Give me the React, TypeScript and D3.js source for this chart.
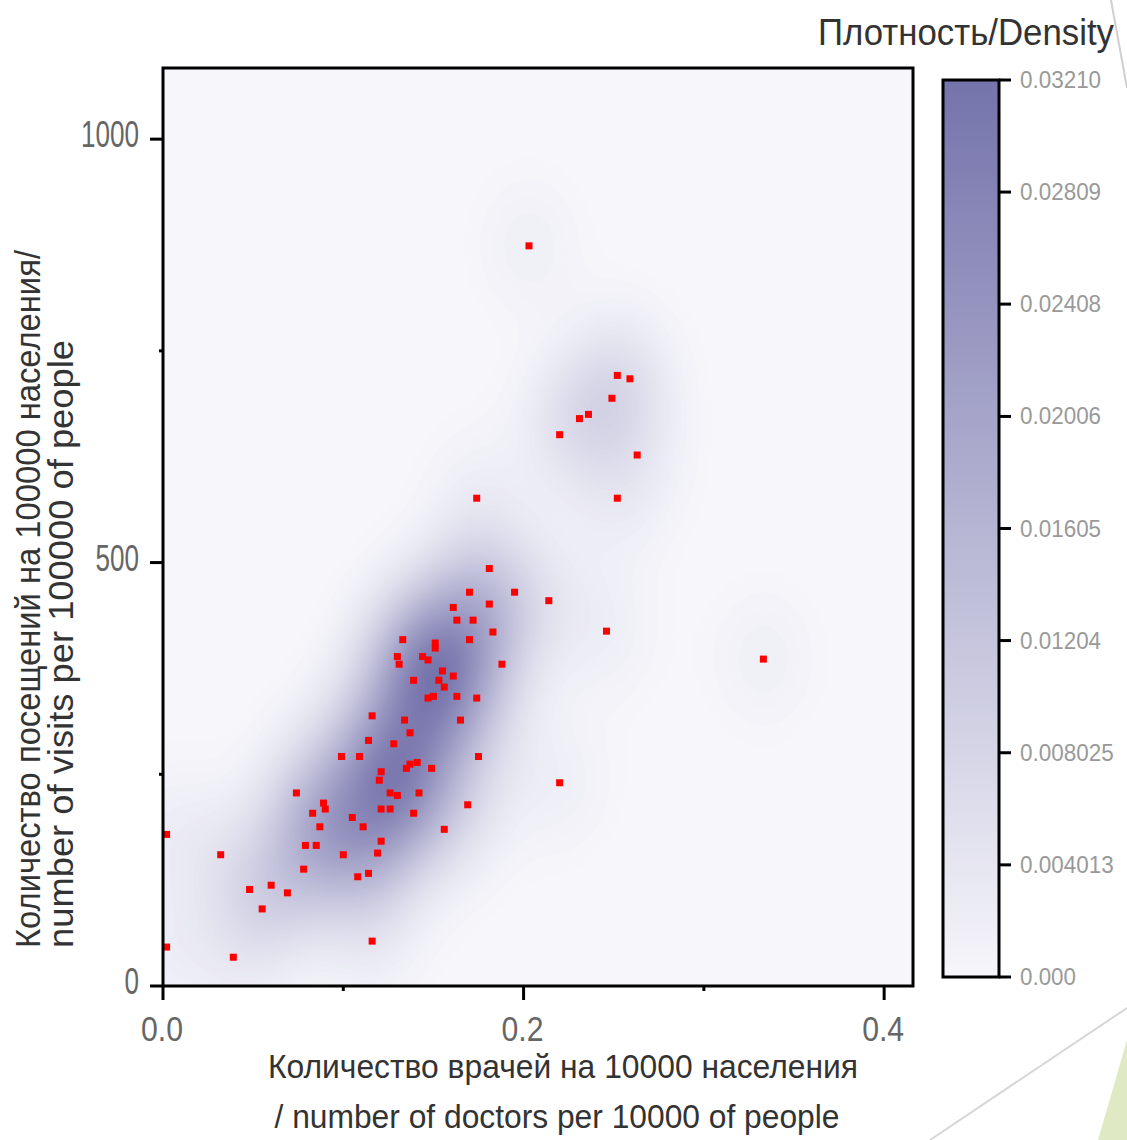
import React, { useMemo } from 'react';
import * as d3 from 'd3';

// doctors per 10000 / visits per 100000
const doctors = [
  0.203, 0.252, 0.259, 0.249, 0.236, 0.231, 0.220, 0.263, 0.252, 0.174,
  0.333, 0.220, 0.246, 0.214, 0.195, 0.181, 0.002, 0.002,
  0.032, 0.048, 0.060, 0.069, 0.055, 0.039, 0.074, 0.078, 0.079, 0.085,
  0.083, 0.087, 0.089, 0.090, 0.100, 0.099, 0.105, 0.108, 0.111, 0.114, 0.116, 0.121, 0.119,
  0.116, 0.114, 0.128, 0.109, 0.121, 0.120, 0.126, 0.130, 0.121, 0.126, 0.142, 0.139, 0.169, 0.156,
  0.181, 0.161, 0.163, 0.172, 0.183, 0.133, 0.151, 0.151, 0.170, 0.130, 0.144, 0.147, 0.131, 0.188,
  0.155, 0.139, 0.153, 0.161, 0.156, 0.150, 0.147, 0.163, 0.174, 0.134, 0.165, 0.137, 0.175, 0.141,
  0.137, 0.135, 0.149, 0.170,
];
const visits = [
  874, 721, 717, 694, 675, 670, 651, 627, 576, 576,
  386, 240, 419, 455, 465, 493, 179, 46,
  155, 114, 119, 110, 91, 34, 228, 138, 166, 166,
  204, 188, 216, 209, 155, 271, 199, 129, 188, 133, 53, 171, 157,
  319, 290, 286, 271, 253, 243, 228, 225, 209, 209, 228, 204, 214, 185,
  451, 447, 432, 432, 418, 409, 405, 399, 409, 389, 389, 385, 380, 380,
  372, 361, 361, 366, 353, 342, 340, 342, 340, 314, 314, 299, 271, 264,
  262, 257, 257, 465,
];

const xTicks = [0, 0.2, 0.4];
const xTickLabels = ['0.0', '0.2', '0.4'];
const xMinorTicks = [0.1, 0.3];
const yTicks = [0, 500, 1000];
const yTickLabels = ['0', '500', '1000'];
const yMinorTicks = [250, 750];
const densityTicks = [0, 0.004013, 0.008025, 0.01204, 0.01605, 0.02006, 0.02408, 0.02809, 0.0321];
const densityTickLabels = ['0.000', '0.004013', '0.008025', '0.01204', '0.01605', '0.02006', '0.02408', '0.02809', '0.03210'];

const densityMax = 0.0321;

const Txt = (p: any) => (
  <text
    x={p.x}
    y={p.y}
    fontSize={p.size}
    textAnchor={p.anchor || 'start'}
    fill={p.fill || '#333'}
    textLength={p.len}
    lengthAdjust="spacingAndGlyphs"
    transform={p.transform}
    fontFamily="'Liberation Sans', Arial, sans-serif"
  >
    {p.children}
  </text>
);

export default function App() {
  const W = 1127;
  const H = 1140;
  const plot = { left: 163, right: 913, top: 68, bottom: 986 };
  const cbar = { left: 943, right: 999, top: 80, bottom: 977 };

  const x = d3.scaleLinear().domain([0, 0.416]).range([plot.left, plot.right]);
  const y = d3.scaleLinear().domain([0, 1084]).range([plot.bottom, plot.top]);
  const cy = d3.scaleLinear().domain([0, densityMax]).range([cbar.bottom, cbar.top]);
  const color = d3
    .scaleLinear<string>()
    .domain([0, densityMax])
    .range(['#f6f6fb', '#7573ab'])
    .interpolate(d3.interpolateRgb);

  const cell = 3;
  const contours = useMemo(() => {
    const nx = Math.ceil((plot.right - plot.left) / cell);
    const ny = Math.ceil((plot.bottom - plot.top) / cell);
    // kernel bandwidths in data units
    const hx = 0.02;
    const hy = 58;
    const n = doctors.length;
    const norm = 1 / (2 * Math.PI * hx * hy * n);
    const values = new Array(nx * ny).fill(0);
    let max = 0;
    for (let j = 0; j < ny; j++) {
      const yd = y.invert(plot.top + (j + 0.5) * cell);
      for (let i = 0; i < nx; i++) {
        const xd = x.invert(plot.left + (i + 0.5) * cell);
        let s = 0;
        for (let k = 0; k < n; k++) {
          const dx = (xd - doctors[k]) / hx;
          const dy = (yd - visits[k]) / hy;
          s += Math.exp(-0.5 * (dx * dx + dy * dy));
        }
        const v = s * norm;
        values[j * nx + i] = v;
        if (v > max) max = v;
      }
    }
    const f = densityMax / max;
    for (let i = 0; i < values.length; i++) values[i] *= f;
    const thresholds = d3.range(1, 90).map((t) => (densityMax * t) / 90);
    return d3.contours().size([nx, ny]).thresholds(thresholds)(values);
  }, []);

  const path = d3.geoPath(d3.geoIdentity().scale(cell).translate([plot.left, plot.top]) as any);

  const stops = d3.range(0, 1.0001, 0.05);

  return (
    <div style={{ position: 'absolute', left: 0, top: 0 }}>
      <svg width={W} height={H} style={{ display: 'block', background: '#fff' }}>
        <defs>
          <clipPath id="plotClip">
            <rect x={plot.left} y={plot.top} width={plot.right - plot.left} height={plot.bottom - plot.top} />
          </clipPath>
          <linearGradient id="cbarGrad" x1="0" y1="1" x2="0" y2="0">
            {stops.map((t) => (
              <stop key={t} offset={t} stopColor={color(t * densityMax)} />
            ))}
          </linearGradient>
        </defs>

        {/* slide decorations */}
        <line x1={1111} y1={0} x2={1127} y2={88} stroke="#cfcfcf" strokeWidth={2} />
        <line x1={930} y1={1140} x2={1127} y2={1008} stroke="#d6d6d6" strokeWidth={2} />
        <polygon points="1098,1140 1127,1040 1127,1140" fill="#dfeac4" />

        {/* density */}
        <g clipPath="url(#plotClip)">
          <rect x={plot.left} y={plot.top} width={plot.right - plot.left} height={plot.bottom - plot.top} fill={color(0)} />
          {contours.map((c, i) => (
            <path key={i} d={path(c as any) || ''} fill={color(c.value)} />
          ))}
          {doctors.map((d, i) => (
            <rect key={i} x={x(d) - 3.5} y={y(visits[i]) - 3.5} width={7} height={7} fill="#ff0000" />
          ))}
        </g>

        {/* frame + ticks */}
        <rect x={plot.left} y={plot.top} width={plot.right - plot.left} height={plot.bottom - plot.top} fill="none" stroke="#000" strokeWidth={3} />
        {yTicks.map((t) => (
          <line key={t} x1={plot.left - 13} x2={plot.left} y1={y(t)} y2={y(t)} stroke="#000" strokeWidth={3} />
        ))}
        {yMinorTicks.map((t) => (
          <line key={t} x1={plot.left - 4} x2={plot.left} y1={y(t)} y2={y(t)} stroke="#000" strokeWidth={3} />
        ))}
        {xTicks.map((t) => (
          <line key={t} x1={x(t)} x2={x(t)} y1={plot.bottom} y2={plot.bottom + 14} stroke="#000" strokeWidth={3} />
        ))}
        {xMinorTicks.map((t) => (
          <line key={t} x1={x(t)} x2={x(t)} y1={plot.bottom} y2={plot.bottom + 5} stroke="#000" strokeWidth={3} />
        ))}
        {yTicks.map((t, i) => (
          <Txt key={t} x={139} y={y(t) + 8} size={36} anchor="end" fill="#666" len={yTickLabels[i].length * 14.5}>
            {yTickLabels[i]}
          </Txt>
        ))}
        {xTicks.map((t, i) => (
          <Txt key={t} x={x(t) - 1} y={1041} size={35} anchor="middle" fill="#666" len={42}>
            {xTickLabels[i]}
          </Txt>
        ))}

        {/* axis titles */}
        <Txt x={563} y={1078} size={34} anchor="middle" len={590}>
          Количество врачей на 10000 населения
        </Txt>
        <Txt x={557} y={1128} size={34} anchor="middle" len={565}>
          / number of doctors per 10000 of people
        </Txt>
        <Txt x={0} y={0} size={35} anchor="middle" len={698} transform="translate(40,599) rotate(-90)">
          Количество посещений на 100000 населения/
        </Txt>
        <Txt x={0} y={0} size={35} anchor="middle" len={608} transform="translate(73,644) rotate(-90)">
          number of visits per 100000 of people
        </Txt>

        {/* colour bar */}
        <Txt x={818} y={45} size={37} len={296}>
          Плотность/Density
        </Txt>
        <rect x={cbar.left} y={cbar.top} width={cbar.right - cbar.left} height={cbar.bottom - cbar.top} fill="url(#cbarGrad)" stroke="#000" strokeWidth={3} />
        {densityTicks.map((t) => (
          <line key={t} x1={cbar.right} x2={cbar.right + 12} y1={cy(t)} y2={cy(t)} stroke="#000" strokeWidth={3} />
        ))}
        {densityTicks.map((t, i) => (
          <Txt key={t} x={1020} y={cy(t) + 8} size={23} fill="#999" len={(densityTickLabels[i].length - 1) * 12.6 + 5.5}>
            {densityTickLabels[i]}
          </Txt>
        ))}
      </svg>
    </div>
  );
}
